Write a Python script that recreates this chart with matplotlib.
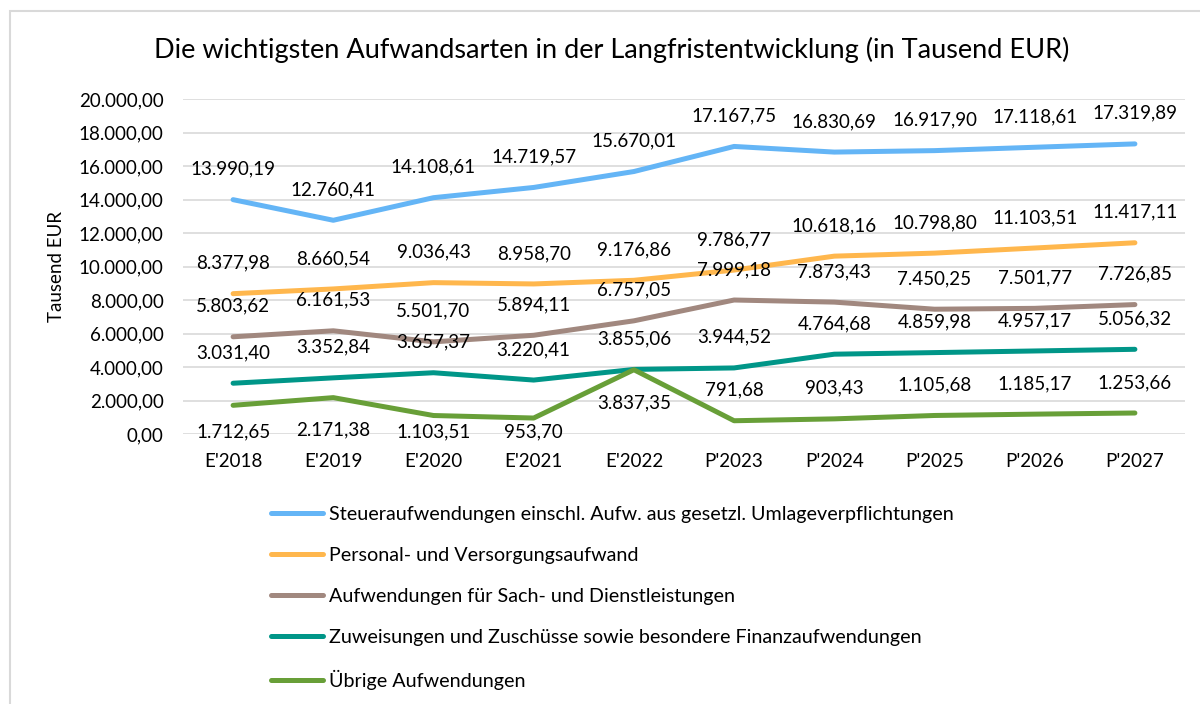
import numpy as np
import matplotlib.pyplot as plt
from matplotlib.lines import Line2D
from matplotlib.patches import Rectangle

plt.rcParams['font.family'] = ['Lato', 'DejaVu Sans']

# Daten (Tausend EUR)
jahre = ["E'2018", "E'2019", "E'2020", "E'2021", "E'2022",
         "P'2023", "P'2024", "P'2025", "P'2026", "P'2027"]
steuer = [13990.19, 12760.41, 14108.61, 14719.57, 15670.01,
          17167.75, 16830.69, 16917.90, 17118.61, 17319.89]
personal = [8377.98, 8660.54, 9036.43, 8958.70, 9176.86,
            9786.77, 10618.16, 10798.80, 11103.51, 11417.11]
sach = [5803.62, 6161.53, 5501.70, 5894.11, 6757.05,
        7999.18, 7873.43, 7450.25, 7501.77, 7726.85]
zuweisungen = [3031.40, 3352.84, 3657.37, 3220.41, 3855.06,
               3944.52, 4764.68, 4859.98, 4957.17, 5056.32]
uebrige = [1712.65, 2171.38, 1103.51, 953.70, 3837.35,
           791.68, 903.43, 1105.68, 1185.17, 1253.66]

namen = ['Steueraufwendungen einschl. Aufw. aus gesetzl. Umlageverpflichtungen',
         'Personal- und Versorgungsaufwand',
         'Aufwendungen für Sach- und Dienstleistungen',
         'Zuweisungen und Zuschüsse sowie besondere Finanzaufwendungen',
         'Übrige Aufwendungen']
farben = ['#64B5F6', '#FFB74D', '#A1887F', '#009688', '#689F38']
reihen = [steuer, personal, sach, zuweisungen, uebrige]
# Beschriftung unterhalb der Linie (nur Übrige Aufwendungen, 2018-2022)
unten = [[False] * 10, [False] * 10, [False] * 10, [False] * 10,
         [True] * 5 + [False] * 5]


def de(v):
    s = f"{v:,.2f}"
    return s.replace(',', 'X').replace('.', ',').replace('X', '.')


fig = plt.figure(figsize=(12, 7.04), dpi=100)
ax = fig.add_axes([183 / 1200, 1 - 434 / 704, 1002 / 1200, 335 / 704])

x = np.arange(len(jahre))
for werte, farbe, name, pos in zip(reihen, farben, namen, unten):
    ax.plot(x, werte, color=farbe, lw=3.6, solid_capstyle='round',
            solid_joinstyle='round', label=name, zorder=3)
    for xi, v, u in zip(x, werte, pos):
        if u:
            ax.text(xi, max(v - 1950, 150), de(v), ha='center', va='center',
                    fontsize=13.5, color='black', zorder=4)
        else:
            ax.annotate(de(v), (xi, v), xytext=(0, 22), textcoords='offset points',
                        ha='center', va='center', fontsize=13.5, color='black', zorder=4)

ax.set_xlim(-0.5, len(jahre) - 0.5)
ax.set_ylim(0, 20000)
ax.set_yticks(np.arange(0, 20001, 2000))
ax.set_yticklabels([de(t) for t in np.arange(0, 20001, 2000)])
ax.set_xticks(x)
ax.set_xticklabels(jahre)
ax.tick_params(axis='both', length=0, labelsize=13.5, colors='black')
ax.tick_params(axis='y', pad=14)
ax.tick_params(axis='x', pad=14)
ax.grid(axis='y', color='#d9d9d9', lw=1.2, zorder=0)
for s in ax.spines.values():
    s.set_visible(False)

fig.text(612 / 1200, 1 - 50 / 704,
         'Die wichtigsten Aufwandsarten in der Langfristentwicklung (in Tausend EUR)',
         ha='center', va='center', fontsize=19.5)
fig.text(57 / 1200, 1 - 267 / 704, 'Tausend EUR', rotation=90,
         ha='center', va='center', fontsize=13.5)

handles = [Line2D([], [], color=f, lw=3.6, solid_capstyle='round') for f in farben]
fig.legend(handles, namen, loc='upper left', bbox_to_anchor=(271 / 1200, 1 - 506 / 704),
           frameon=False, fontsize=14.2, handlelength=2.65, handletextpad=0.3,
           labelspacing=1.22, borderpad=0, borderaxespad=0)

fig.patches.append(Rectangle((10 / 1200, -0.1), 1.2, 1 - 11 / 704 + 0.1,
                             transform=fig.transFigure, fill=False,
                             edgecolor='#d9d9d9', lw=1.5))

fig.savefig('out.png', dpi=100)
